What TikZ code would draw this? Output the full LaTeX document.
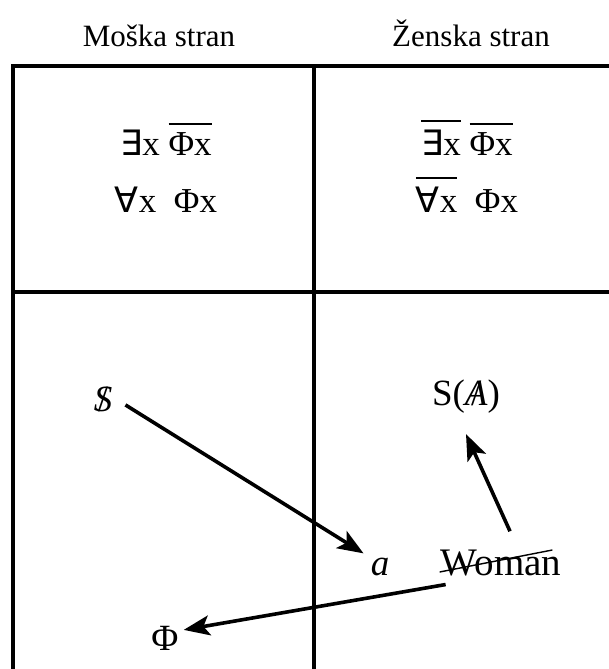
\documentclass[tikz,border=0pt]{standalone}
\usepackage{fontspec}
\setmainfont{Liberation Serif}
\newfontfamily\symf{DejaVu Sans}
\usetikzlibrary{arrows.meta,calc}
\newcommand\ovl[1]{\leavevmode\vbox{\hrule height 2.2pt\kern 7pt\hbox{#1}}}
\newcommand\EX{{\symf\char"2203}}
\newcommand\AL{{\symf\char"2200}}
\newcommand\slashed[1]{{\ooalign{#1\cr\hidewidth/\hidewidth\cr}}}
\begin{document}
\begin{tikzpicture}[x=1pt,y=-1pt,
  head/.style={font=\fontsize{31}{37}\selectfont, inner sep=1pt, anchor=base},
  form/.style={font=\fontsize{35}{42}\selectfont, inner sep=1pt, anchor=base},
  lbl/.style={font=\fontsize{37}{44}\selectfont, inner sep=1pt, anchor=base},
  frame/.style={line width=3.5pt},
  arr/.style={line width=3.6pt,-{Stealth[length=26pt,width=20pt,inset=6pt]}}]
\useasboundingbox (0,0) rectangle (609,669);
% headings
\node[head] (hm) at (159,47) {Moška stran};
\node[head] (hz) at (471,47) {Ženska stran};
% frame
\draw[frame] (13,669) -- (13,66) -- (609,66);
\draw[frame] (13,292) -- (609,292);
\draw[frame] (314,66) -- (314,669);
% formulas
\node[form] (f1) at (166,155) {\EX x\ \ovl{Φx}};
\node[form] (f2) at (166,212) {\AL x\ \ Φx};
\node[form] (f3) at (467,155) {\ovl{\EX x}\ \ovl{Φx}};
\node[form] (f4) at (467,212) {\ovl{\AL x}\ \ Φx};
% lower labels
\node[lbl] (dl) at (103,411) {\slashed{\textit{S}}};
\node[lbl] (a) at (380,575) {\textit{a}};
\node[lbl,font=\fontsize{39}{46}\selectfont] (W) at (501,575) {Woman};
\node[lbl] (SA) at (466,405) {S(\slashed{\textit{A}})};
\node[lbl] (phi) at (165,650) {Φ};
\draw[line width=1.4pt] ([xshift=0pt,yshift=3pt]W.base west) -- ([xshift=-10pt,yshift=25pt]W.base east);
% arrows
\draw[arr] ([xshift=12pt,yshift=-6pt]dl.east) -- ([xshift=-6pt,yshift=3pt]a.north west);
\draw[arr] ([xshift=6pt,yshift=-22pt]W.west) -- ([xshift=4pt,yshift=8pt]phi.east);
\draw[arr] ([xshift=9pt,yshift=17pt]W.north) -- ([yshift=-20pt]SA.south);
\end{tikzpicture}
\end{document}
